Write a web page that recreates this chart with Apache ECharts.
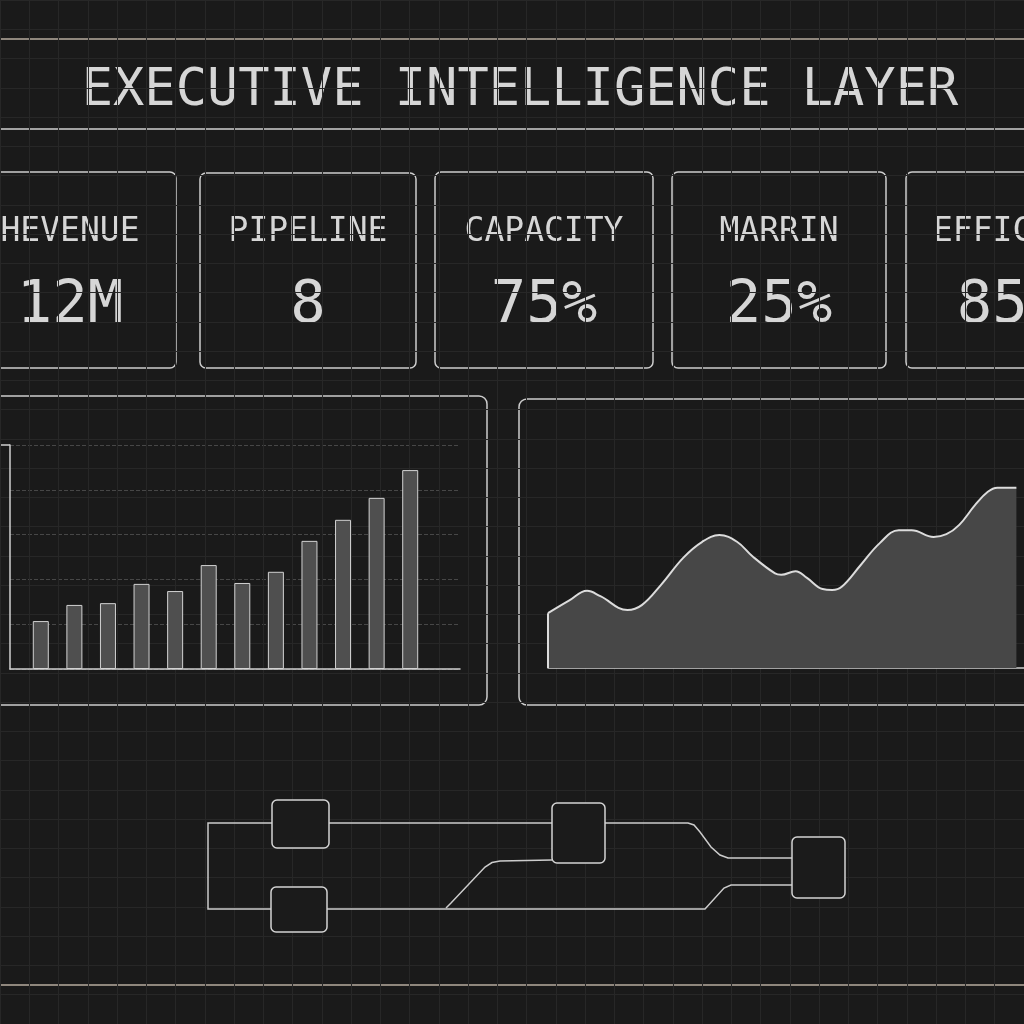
<!DOCTYPE html>
<html>
<head>
<meta charset="utf-8">
<script src="https://cdn.jsdelivr.net/npm/echarts@6/dist/echarts.min.js"></script>
<style>
  html, body { margin: 0; padding: 0; background: #1a1a1a; }
  #main { width: 1024px; height: 1024px; }
</style>
</head>
<body>
<div id="main"></div>
<script>
// ---- data ----
const titleText = 'EXECUTIVE INTELLIGENCE LAYER';

const kpiLabels = ['HEVENUE', 'PIPELINE', 'CAPACITY', 'MARRIN', 'EFFICIENCY'];
const kpiValues = ['12M', '8', '75%', '25%', '85%'];

const barMonths = ['Jan', 'Feb', 'Mar', 'Apr', 'May', 'Jun', 'Jul', 'Aug', 'Sep', 'Oct', 'Nov', 'Dec'];
const barValues = [10.7, 14.3, 14.7, 19.0, 17.4, 23.2, 19.2, 21.7, 28.6, 33.3, 38.2, 44.4];
const barAxisMax = 50;
const barAxisStep = 10;

const trendX = [0, 4.4, 8.2, 11.0, 16.7, 19.7, 23.7, 28.4, 32.4, 36.0, 39.7, 43.0, 47.7, 49.0, 52.0, 54.4, 57.7, 59.7, 61.7, 65.7, 69.7, 73.7, 76.4, 81.0, 83.7, 86.4, 89.7, 92.4, 94.4, 98.4];
const trendY = [12.3, 15.1, 17.3, 16.1, 13.0, 14.1, 18.6, 24.7, 28.3, 29.8, 28.3, 25.0, 21.2, 20.9, 21.7, 20.2, 17.7, 17.5, 18.2, 23.1, 28.0, 30.9, 30.9, 29.4, 30.0, 32.1, 36.5, 39.5, 40.4, 40.4];

// flow diagram: boxes [x0, y0, x1, y1] and edges as polylines, in diagram units
const flowNodes = [
  [7.2, 1.0, 12.9, 5.8],
  [7.1, 9.7, 12.7, 14.2],
  [35.2, 1.3, 40.5, 7.3],
  [59.2, 4.7, 64.5, 10.8]
];
const flowEdges = [
  [[7.2, 3.3], [0.8, 3.3], [0.8, 11.9], [7.1, 11.9]],
  [[12.9, 3.3], [35.2, 3.3]],
  [[40.5, 3.3], [48.8, 3.3], [49.4, 3.5], [50.0, 4.2], [51.1, 5.7], [52.0, 6.5], [52.8, 6.8], [59.2, 6.8]],
  [[12.7, 11.9], [50.5, 11.9], [52.4, 9.8], [53.1, 9.5], [59.2, 9.5]],
  [[24.6, 11.8], [25.1, 11.3], [28.5, 7.7], [29.2, 7.25], [30.0, 7.1], [35.2, 7.0]]
];

// ---- layout ----
const FONT = '"DejaVu Sans Mono", monospace';
const TEXT = '#d6d6d6';
const STROKE = '#cdcdcd';
const cardBoxes = [
  [-36, 172, 212, 196],
  [200, 173, 216, 195],
  [435, 172, 218, 196],
  [672, 172, 214, 196],
  [906, 172, 208, 196]
];

var myChart = echarts.init(document.getElementById('main'), null, {
  width: 1024,
  height: 1024,
});

let graphics = [
  { type: 'line', shape: { x1: 0, y1: 39, x2: 1024, y2: 39 }, style: { stroke: '#8f877d', lineWidth: 2 } },
  { type: 'line', shape: { x1: 0, y1: 129, x2: 1024, y2: 129 }, style: { stroke: '#d0d0d0', lineWidth: 1.5 } },
  { type: 'line', shape: { x1: 0, y1: 985, x2: 1024, y2: 985 }, style: { stroke: '#8f877d', lineWidth: 2 } },
  {
    type: 'text',
    style: {
      text: titleText, x: 520, y: 91, fill: TEXT,
      font: '52px ' + FONT,
      align: 'center', verticalAlign: 'middle',
      textAlign: 'center', textVerticalAlign: 'middle'
    }
  },
  // chart panels
  { type: 'rect', shape: { x: -20, y: 396, width: 507, height: 309, r: 8 }, style: { fill: 'transparent', stroke: STROKE, lineWidth: 1.5 } },
  { type: 'rect', shape: { x: 519, y: 399, width: 540, height: 306, r: 8 }, style: { fill: 'transparent', stroke: STROKE, lineWidth: 1.5 } },
  // stub at the top of the bar chart's value axis
  { type: 'line', shape: { x1: 0, y1: 445, x2: 10, y2: 445 }, style: { stroke: '#d0d0d0', lineWidth: 1.5 } }
];

cardBoxes.forEach(function (b, i) {
  let cx = b[0] + b[2] / 2;
  let last = i === cardBoxes.length - 1;
  graphics.push({ type: 'rect', shape: { x: b[0], y: b[1], width: b[2], height: b[3], r: 6 }, style: { fill: 'transparent', stroke: STROKE, lineWidth: 1.5 } });
  graphics.push({
    type: 'text',
    style: {
      text: kpiLabels[i], x: last ? b[0] + 27 : cx, y: 232, fill: TEXT,
      font: '33px ' + FONT,
      align: last ? 'left' : 'center', verticalAlign: 'middle',
      textAlign: last ? 'left' : 'center', textVerticalAlign: 'middle'
    }
  });
  graphics.push({
    type: 'text',
    style: {
      text: kpiValues[i], x: cx, y: 307, fill: TEXT,
      font: '59px ' + FONT,
      align: 'center', verticalAlign: 'middle',
      textAlign: 'center', textVerticalAlign: 'middle'
    }
  });
});

const hidden = { show: false };

let option = {
  backgroundColor: '#1a1a1a',
  animation: false,
  graphic: graphics,
  grid: [
    { left: 10, top: 445, width: 450, height: 224 },   // bar frame
    { left: 24, top: 445, width: 403, height: 224 },   // bars
    { left: 548, top: 445, width: 500, height: 223 },  // area
    { left: 200, top: 790, width: 660, height: 150 },  // flow
    { left: -2.5, top: -0.5, width: 1050, height: 1032.5 } // background grid
  ],
  xAxis: [
    {
      gridIndex: 0, type: 'value', min: 0, max: 1,
      axisLine: { show: true, lineStyle: { color: '#d0d0d0', width: 1.5 } },
      axisTick: hidden, axisLabel: hidden, splitLine: hidden
    },
    {
      gridIndex: 1, type: 'category', data: barMonths,
      axisLine: hidden, axisTick: hidden, axisLabel: hidden, splitLine: hidden
    },
    {
      gridIndex: 2, type: 'value', min: 0, max: 100,
      axisLine: { show: true, lineStyle: { color: '#d0d0d0', width: 1.5 } },
      axisTick: hidden, axisLabel: hidden, splitLine: hidden
    },
    {
      gridIndex: 3, type: 'value', min: 0, max: 66,
      axisLine: hidden, axisTick: hidden, axisLabel: hidden, splitLine: hidden
    },
    {
      gridIndex: 4, type: 'value', min: 0, max: 35, interval: 1,
      axisLine: hidden, axisTick: hidden, axisLabel: hidden,
      splitLine: { show: true, lineStyle: { color: '#272727', width: 1 } }
    }
  ],
  yAxis: [
    {
      gridIndex: 0, type: 'value', min: 0, max: barAxisMax, interval: barAxisStep,
      axisLine: { show: true, lineStyle: { color: '#d0d0d0', width: 1.5 } },
      axisTick: hidden,
      axisLabel: hidden,
      splitLine: { show: true, lineStyle: { color: '#474747', type: 'dashed', width: 1 } }
    },
    {
      gridIndex: 1, type: 'value', min: 0, max: barAxisMax,
      axisLine: hidden, axisTick: hidden, axisLabel: hidden, splitLine: hidden
    },
    {
      gridIndex: 2, type: 'value', min: 0, max: 50,
      axisLine: hidden, axisTick: hidden, axisLabel: hidden, splitLine: hidden
    },
    {
      gridIndex: 3, type: 'value', min: 0, max: 15, inverse: true,
      axisLine: hidden, axisTick: hidden, axisLabel: hidden, splitLine: hidden
    },
    {
      gridIndex: 4, type: 'value', min: 0, max: 35, interval: 1, inverse: true,
      axisLine: hidden, axisTick: hidden, axisLabel: hidden,
      splitLine: { show: true, lineStyle: { color: '#272727', width: 1 } }
    }
  ],
  series: [
    {
      name: 'Bars',
      type: 'bar',
      xAxisIndex: 1, yAxisIndex: 1,
      barWidth: 16,
      itemStyle: { color: '#4f4f4f', borderColor: '#d2d2d2', borderWidth: 1 },
      data: barValues
    },
    {
      name: 'Trend',
      type: 'line',
      xAxisIndex: 2, yAxisIndex: 2,
      smooth: 0.4,
      symbol: 'none',
      lineStyle: { color: '#dcdcdc', width: 2 },
      areaStyle: { color: '#474747', opacity: 1 },
      data: trendX.map((x, i) => [x, trendY[i]])
    },
    {
      name: 'TrendEdge',
      type: 'line',
      xAxisIndex: 2, yAxisIndex: 2,
      symbol: 'none',
      lineStyle: { color: '#dcdcdc', width: 2 },
      data: [[trendX[0], 0], [trendX[0], trendY[0]]]
    },
    {
      name: 'FlowEdges',
      type: 'lines',
      coordinateSystem: 'cartesian2d',
      xAxisIndex: 3, yAxisIndex: 3,
      polyline: true,
      lineStyle: { color: '#cccccc', width: 1.5, opacity: 1 },
      data: flowEdges.map(c => ({ coords: c }))
    },
    {
      name: 'FlowNodes',
      type: 'custom',
      xAxisIndex: 3, yAxisIndex: 3,
      renderItem: function (params, api) {
        let p0 = api.coord([api.value(0), api.value(1)]);
        let p1 = api.coord([api.value(2), api.value(3)]);
        return {
          type: 'rect',
          shape: { x: p0[0], y: p0[1], width: p1[0] - p0[0], height: p1[1] - p0[1], r: 5 },
          style: { fill: '#1b1b1b', stroke: '#d4d4d4', lineWidth: 1.5 }
        };
      },
      data: flowNodes
    }
  ]
};

myChart.setOption(option);
</script>
</body>
</html>
